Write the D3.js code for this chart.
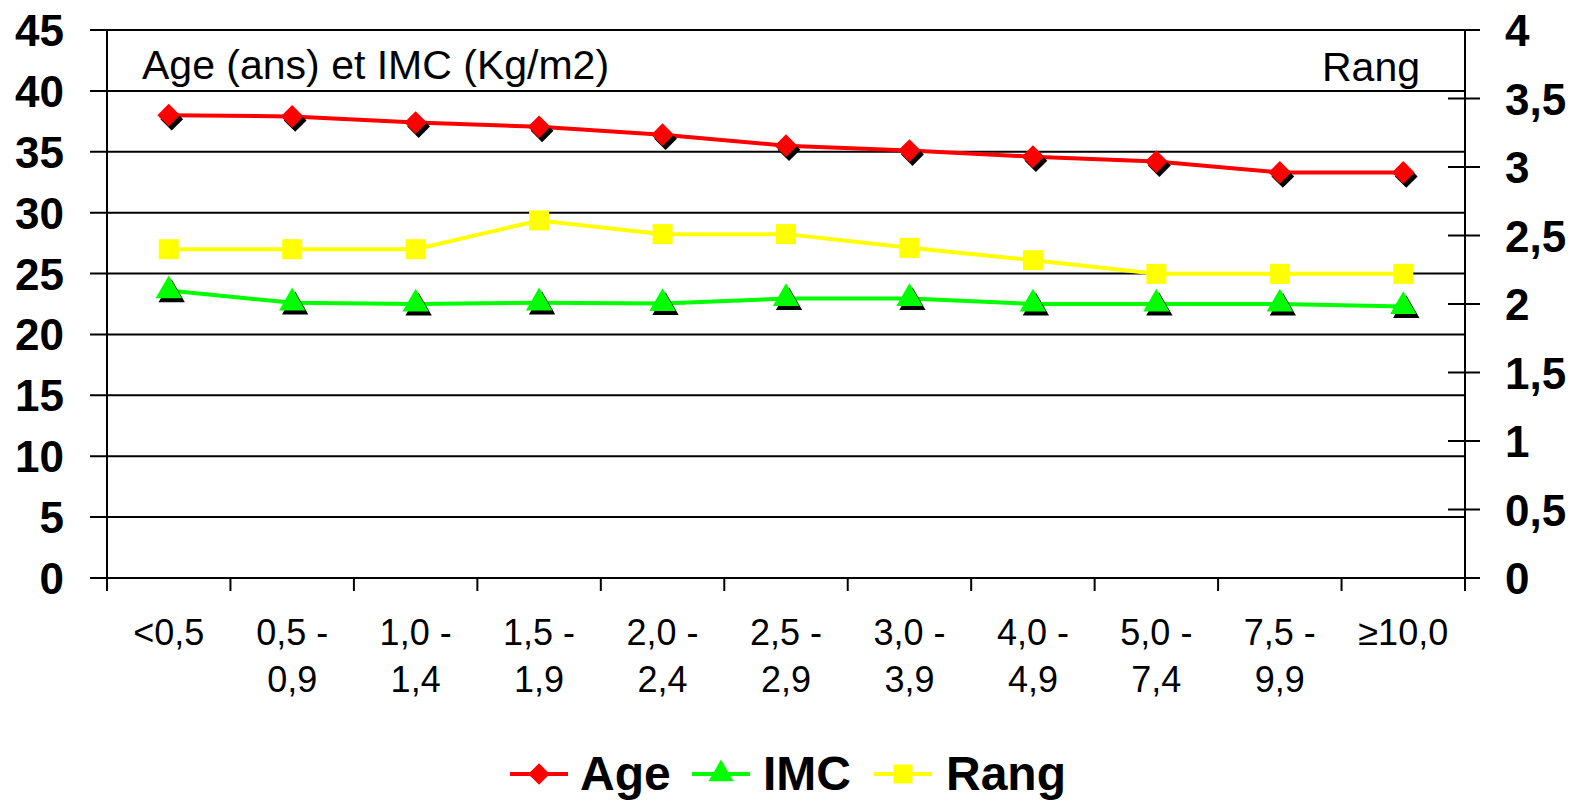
<!DOCTYPE html>
<html>
<head>
<meta charset="utf-8">
<script src="https://cdn.jsdelivr.net/npm/d3@7"></script>
<style>
  body { margin: 0; background: #fff; }
  svg { display: block; font-family: "Liberation Sans", Arial, sans-serif; }
</style>
</head>
<body>
<svg id="chart" width="1582" height="801"></svg>
<script>
// categories (two-line labels)
const categories = ["<0,5", "0,5 -|0,9", "1,0 -|1,4", "1,5 -|1,9", "2,0 -|2,4", "2,5 -|2,9",
                    "3,0 -|3,9", "4,0 -|4,9", "5,0 -|7,4", "7,5 -|9,9", "≥10,0"];
const ageValues  = [38.0, 37.9, 37.4, 37.05, 36.4, 35.5, 35.1, 34.6, 34.2, 33.3, 33.3];
const imcValues  = [23.6, 22.6, 22.5, 22.6, 22.55, 22.95, 22.95, 22.5, 22.5, 22.5, 22.3];
const rangValues = [2.4, 2.4, 2.4, 2.61, 2.51, 2.51, 2.41, 2.32, 2.22, 2.22, 2.22];
const leftTicks  = [0, 5, 10, 15, 20, 25, 30, 35, 40, 45];
const rightTicks = [0, 0.5, 1, 1.5, 2, 2.5, 3, 3.5, 4];

const svg = d3.select("#chart");
const plotL = 107, plotR = 1465, plotT = 30, plotB = 578;

const x = d3.scaleBand().domain(d3.range(categories.length)).range([plotL, plotR]);
const yL = d3.scaleLinear().domain([0, 45]).range([plotB, plotT]);
const yR = d3.scaleLinear().domain([0, 4]).range([plotB, plotT]);
const cx = i => x(i) + x.bandwidth() / 2;

const fmt = v => String(v).replace(".", ",");

// left gridlines + labels
const gridL = svg.append("g");
gridL.selectAll("line").data(leftTicks).enter().append("line")
    .attr("x1", 90).attr("x2", d => d === 45 ? 1480 : plotR)
    .attr("y1", d => yL(d)).attr("y2", d => yL(d))
    .attr("stroke", "#000").attr("stroke-width", 2);
gridL.selectAll("text").data(leftTicks).enter().append("text")
    .attr("x", 64).attr("y", d => yL(d) + 16)
    .attr("text-anchor", "end")
    .attr("font-size", 44).attr("font-weight", "bold")
    .text(d => d);

// right axis ticks + labels
const axR = svg.append("g");
axR.selectAll("line").data(rightTicks).enter().append("line")
    .attr("x1", 1448).attr("x2", 1480)
    .attr("y1", d => yR(d)).attr("y2", d => yR(d))
    .attr("stroke", "#000").attr("stroke-width", 2);
axR.selectAll("text").data(rightTicks).enter().append("text")
    .attr("x", 1505).attr("y", d => yR(d) + 16)
    .attr("font-size", 44).attr("font-weight", "bold")
    .text(d => fmt(d));

// axis lines
svg.append("line").attr("x1", plotL).attr("x2", plotL).attr("y1", plotT).attr("y2", plotB)
    .attr("stroke", "#000").attr("stroke-width", 2);
svg.append("line").attr("x1", plotR).attr("x2", plotR).attr("y1", plotT).attr("y2", plotB)
    .attr("stroke", "#000").attr("stroke-width", 2);
svg.append("line").attr("x1", 90).attr("x2", 1480).attr("y1", plotB).attr("y2", plotB)
    .attr("stroke", "#000").attr("stroke-width", 2);

// x ticks at category boundaries
const xb = d3.range(categories.length + 1).map(i => i < categories.length ? x(i) : plotR);
svg.append("g").selectAll("line").data(xb).enter().append("line")
    .attr("x1", d => d).attr("x2", d => d).attr("y1", plotB).attr("y2", plotB + 13)
    .attr("stroke", "#000").attr("stroke-width", 2);

// x labels
const xl = svg.append("g").selectAll("text").data(categories).enter().append("text")
    .attr("text-anchor", "middle").attr("font-size", 36)
    .attr("transform", (d, i) => `translate(${cx(i)},645)`);
xl.each(function(d) {
    const parts = d.split("|");
    d3.select(this).selectAll("tspan").data(parts).enter().append("tspan")
        .attr("x", 0).attr("y", (p, j) => j * 47)
        .text(p => p);
});

// axis titles
svg.append("text").attr("x", 142).attr("y", 79).attr("font-size", 41).text("Age (ans) et IMC (Kg/m2)");
svg.append("text").attr("x", 1420).attr("y", 81).attr("text-anchor", "end").attr("font-size", 41).text("Rang");

// series
const series = [
    { name: "Age",  values: ageValues,  y: yL, color: "#ff0000", shape: d3.symbolDiamond2, size: 330, shadow: true },
    { name: "IMC",  values: imcValues,  y: yL, color: "#00ff00", shape: d3.symbolTriangle, size: 300, shadow: true },
    { name: "Rang", values: rangValues, y: yR, color: "#ffff00", shape: d3.symbolSquare,   size: 400, shadow: false }
];

const plot = svg.append("g");
series.forEach(s => {
    const line = d3.line().x((d, i) => cx(i)).y(d => s.y(d));
    plot.append("path").datum(s.values)
        .attr("fill", "none").attr("stroke", s.color).attr("stroke-width", 4)
        .attr("d", line);
    const sym = d3.symbol().type(s.shape).size(s.size);
    if (s.shadow) {
        plot.selectAll(null).data(s.values).enter().append("path")
            .attr("d", sym)
            .attr("fill", "#000")
            .attr("transform", (d, i) => `translate(${cx(i) + 3},${s.y(d) + 4})`);
    }
    plot.selectAll(null).data(s.values).enter().append("path")
        .attr("d", sym)
        .attr("fill", s.color)
        .attr("transform", (d, i) => `translate(${cx(i)},${s.y(d)})`);
});

// legend
const legendPos = [{ x0: 510, tx: 580 }, { x0: 692, tx: 763 }, { x0: 874, tx: 946 }];
const leg = svg.append("g");
series.forEach((s, k) => {
    const p = legendPos[k];
    leg.append("line").attr("x1", p.x0).attr("x2", p.x0 + 58).attr("y1", 774).attr("y2", 774)
        .attr("stroke", s.color).attr("stroke-width", 4);
    leg.append("path").attr("d", d3.symbol().type(s.shape).size(s.size * 0.9))
        .attr("fill", s.color).attr("transform", `translate(${p.x0 + 29},774)`);
    leg.append("text").attr("x", p.tx).attr("y", 790)
        .attr("font-size", 48).attr("font-weight", "bold").text(s.name);
});
</script>
</body>
</html>
